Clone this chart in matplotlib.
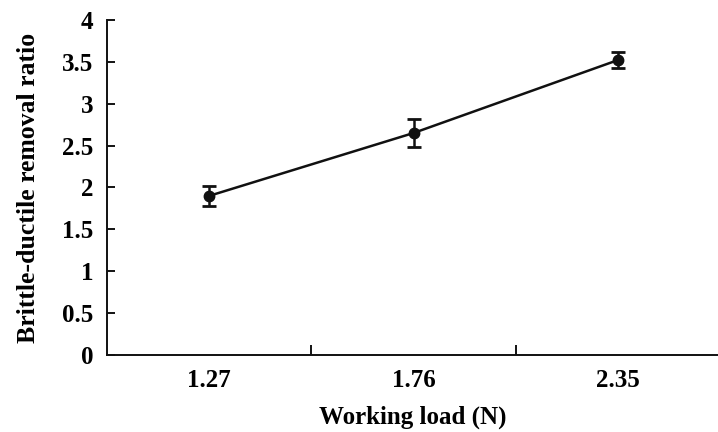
import numpy as np
import matplotlib.pyplot as plt

# data
loads = ['1.27', '1.76', '2.35']
ratio = [1.90, 2.65, 3.52]
err = [0.12, 0.17, 0.10]

plt.rcParams['font.family'] = ['Liberation Serif', 'DejaVu Serif']
plt.rcParams['font.weight'] = 'bold'

fig = plt.figure(figsize=(7.18, 4.32), dpi=100)
ax = fig.add_axes([0.149, 0.178, 0.851, 0.776])

xpos = np.arange(len(loads))
ax.errorbar(xpos, ratio, yerr=err, color='#111111', lw=1.8, marker='o', ms=7.5,
            capsize=5, capthick=2, elinewidth=1.8)

ax.set_ylim(0, 4)
ax.set_yticks(np.arange(0, 4.01, 0.5))
ax.set_yticklabels(['0', '0.5', '1', '1.5', '2', '2.5', '3', '3.5', '4'])
ax.set_xlim(-0.5, 2.49)
ax.set_xticks(xpos)
ax.set_xticklabels(loads)
ax.set_xticks([0.5, 1.5], minor=True)

ax.spines['top'].set_visible(False)
ax.spines['right'].set_visible(False)
for s in ['left', 'bottom']:
    ax.spines[s].set_linewidth(1.4)
    ax.spines[s].set_color('#111111')

ax.tick_params(axis='y', direction='in', length=6, width=1.3, labelsize=18, pad=10)
ax.tick_params(axis='x', which='major', length=0, labelsize=18, pad=10)
ax.tick_params(axis='x', which='minor', direction='in', length=7, width=1.3)

ax.set_xlabel('Working load (N)', fontsize=18, fontweight='bold', labelpad=10)
ax.set_ylabel('Brittle-ductile removal ratio', fontsize=18.5, fontweight='bold', labelpad=16)

fig.savefig('out.png', dpi=100)
